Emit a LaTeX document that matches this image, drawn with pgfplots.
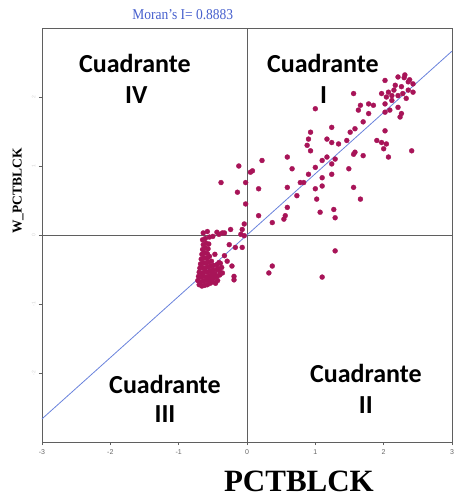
\documentclass[border=0pt]{standalone}
\usepackage{fontspec}
\setmainfont{Liberation Serif}
\newfontfamily\calfont{Carlito}
\newfontfamily\ticksfont{Liberation Sans}
\usepackage{pgfplots}
\pgfplotsset{compat=1.18}
\definecolor{pointcol}{RGB}{168,20,88}
\definecolor{fitcol}{RGB}{105,130,220}
\definecolor{titlecol}{RGB}{70,95,205}
\definecolor{framecol}{RGB}{95,95,95}

\begin{document}
\begin{tikzpicture}
\begin{axis}[
  name=ax,
  scale only axis,
  width=410pt, height=414pt,
  xmin=-3, xmax=3, ymin=-3, ymax=3,
  axis line style={framecol, line width=0.9pt},
  xtick={-3,-2,-1,0,1,2,3},
  ytick={-2,-1,0,1,2},
  xtick pos=bottom, ytick pos=left,
  tick align=outside,
  major tick length=3pt,
  tick style={framecol, line width=0.8pt},
  xticklabel style={font=\ticksfont\scriptsize, text=gray!80!black, yshift=-1pt},
  yticklabel style={font=\ticksfont\tiny, text=gray!35, rotate=90, anchor=south},
  /pgf/number format/assume math mode=true,
  clip=false,
]
% quadrant dividers through the origin
\draw[framecol, line width=0.9pt] (axis cs:0,-3) -- (axis cs:0,3);
\draw[framecol, line width=0.9pt] (axis cs:-3,0) -- (axis cs:3,0);

% fitted line, slope = Moran's I
\addplot[fitcol, line width=0.8pt] coordinates {(-3,-2.6649) (3,2.6649)};

% standardized values and their spatial lags
\addplot[only marks, color=pointcol, mark=*, mark size=2.5pt, mark options={solid, draw=pointcol, fill=pointcol, line width=0.3pt}] coordinates {
(2.02,2.24) (2.21,2.29) (2.31,2.32) (2.36,2.22) (2.43,2.19) (2.26,2.15)
(2.17,2.17) (2.07,2.07) (1.97,2.05) (2.04,2.00) (2.21,2.02) (2.36,2.10)
(2.43,2.07) (2.12,1.95) (2.02,1.90) (2.09,1.81) (2.02,1.78) (2.21,1.85)
(2.26,1.76) (2.24,1.71) (1.56,2.05) (1.66,1.88) (1.78,1.90) (1.85,1.88)
(1.78,1.76) (1.63,1.81) (1.00,1.83) (1.70,1.64) (1.51,1.49) (1.58,1.54)
(1.46,1.37) (1.17,1.39) (1.24,1.34) (1.34,1.32) (1.24,1.56) (0.93,1.49)
(0.90,1.39) (0.88,1.30) (0.93,1.22) (0.59,1.13) (0.66,0.96) (1.00,0.98)
(1.10,1.08) (1.17,1.13) (1.24,1.03) (1.29,1.10) (1.49,0.96) (1.58,1.20)
(1.70,1.15) (1.56,1.17) (1.90,1.37) (1.97,1.34) (2.04,1.32) (2.02,1.51)
(2.00,1.25) (2.07,1.13) (2.41,1.22) (0.05,0.91) (0.08,0.93) (0.22,1.08)
(-0.12,1.00) (-0.38,0.76) (-0.14,0.62) (-0.02,0.76) (0.17,0.67) (-0.02,0.45)
(0.59,0.69) (0.73,0.57) (0.78,0.76) (0.83,0.76) (0.90,0.88) (1.00,0.67)
(1.02,0.52) (1.10,0.83) (1.10,0.71) (1.24,0.88) (1.56,0.69) (1.66,0.52)
(0.59,0.40) (0.56,0.28) (0.54,0.23) (0.17,0.28) (0.37,0.18) (1.07,0.33)
(1.27,0.37) (1.29,0.25) (-0.04,0.16) (-0.07,0.08) (-0.09,0.01) (-0.04,-0.01)
(-0.24,0.08) (-0.33,0.03) (-0.41,0.01) (-0.07,-0.18) (-0.17,-0.18) (-0.26,-0.14)
(-0.29,-0.38) (-0.41,-0.40) (-0.19,-0.60) (-0.19,-0.65) (1.29,-0.23) (0.37,-0.45)
(0.32,-0.55) (1.10,-0.61)
(2.30,2.28) (2.38,2.25) (2.15,2.10) (2.28,2.05) (2.33,1.98) (2.12,2.02)
(-0.70,-0.72) (-0.66,-0.74) (-0.62,-0.73) (-0.58,-0.72) (-0.54,-0.70) (-0.50,-0.68)
(-0.72,-0.66) (-0.68,-0.68) (-0.64,-0.67) (-0.60,-0.66) (-0.56,-0.65) (-0.52,-0.63) (-0.48,-0.62)
(-0.71,-0.60) (-0.67,-0.61) (-0.63,-0.60) (-0.59,-0.61) (-0.55,-0.59) (-0.51,-0.57) (-0.47,-0.56)
(-0.70,-0.54) (-0.66,-0.55) (-0.62,-0.53) (-0.58,-0.54) (-0.54,-0.52) (-0.50,-0.51) (-0.45,-0.50) (-0.41,-0.49) (-0.37,-0.47)
(-0.69,-0.48) (-0.65,-0.47) (-0.61,-0.48) (-0.57,-0.46) (-0.53,-0.45) (-0.49,-0.44) (-0.44,-0.43) (-0.39,-0.41)
(-0.68,-0.42) (-0.64,-0.40) (-0.60,-0.41) (-0.56,-0.39) (-0.52,-0.38)
(-0.67,-0.35) (-0.63,-0.33) (-0.59,-0.34) (-0.55,-0.31)
(-0.66,-0.28) (-0.62,-0.26) (-0.58,-0.27) (-0.47,-0.28)
(-0.65,-0.21) (-0.61,-0.19) (-0.57,-0.20)
(-0.64,-0.14) (-0.60,-0.12) (-0.56,-0.13)
(-0.65,-0.07) (-0.61,-0.05) (-0.55,-0.03) (-0.50,-0.02)
(-0.64,0.03) (-0.58,0.05) (-0.44,0.04) (-0.36,0.03)
(-0.33,-0.30) (-0.22,-0.45)
(-0.44,-0.60) (-0.40,-0.58) (-0.43,-0.66) (-0.46,-0.70) (-0.40,-0.53) (-0.36,-0.55)
};

% quadrant names
\node[font=\calfont\bfseries\fontsize{26}{26}\selectfont, anchor=base] at (axis cs:-1.64,2.35) {Cuadrante};
\node[font=\calfont\bfseries\fontsize{26}{26}\selectfont, anchor=base] at (axis cs:-1.62,1.90) {IV};
\node[font=\calfont\bfseries\fontsize{26}{26}\selectfont, anchor=base] at (axis cs:1.11,2.35) {Cuadrante};
\node[font=\calfont\bfseries\fontsize{26}{26}\selectfont, anchor=base] at (axis cs:1.12,1.90) {I};
\node[font=\calfont\bfseries\fontsize{26}{26}\selectfont, anchor=base] at (axis cs:-1.20,-2.29) {Cuadrante};
\node[font=\calfont\bfseries\fontsize{26}{26}\selectfont, anchor=base] at (axis cs:-1.20,-2.72) {III};
\node[font=\calfont\bfseries\fontsize{26}{26}\selectfont, anchor=base] at (axis cs:1.74,-2.14) {Cuadrante};
\node[font=\calfont\bfseries\fontsize{26}{26}\selectfont, anchor=base] at (axis cs:1.74,-2.58) {II};

% title and axis labels
\node[font=\fontsize{15}{15}\selectfont, text=titlecol, xscale=0.9] at ([yshift=13pt]axis cs:-0.94,3) {Moran's I= 0.8883};
\node[font=\bfseries\fontsize{31}{31}\selectfont, anchor=base] at ([yshift=-49pt]axis cs:0.76,-3) {PCTBLCK};
\node[font=\bfseries\fontsize{13.5}{13.5}\selectfont, rotate=90] at ([xshift=-24pt]axis cs:-3,0.64) {W\_PCTBLCK};
\end{axis}
\pgfresetboundingbox
\path (-42pt,-58pt) rectangle (413pt,442pt);
\end{tikzpicture}
\end{document}
